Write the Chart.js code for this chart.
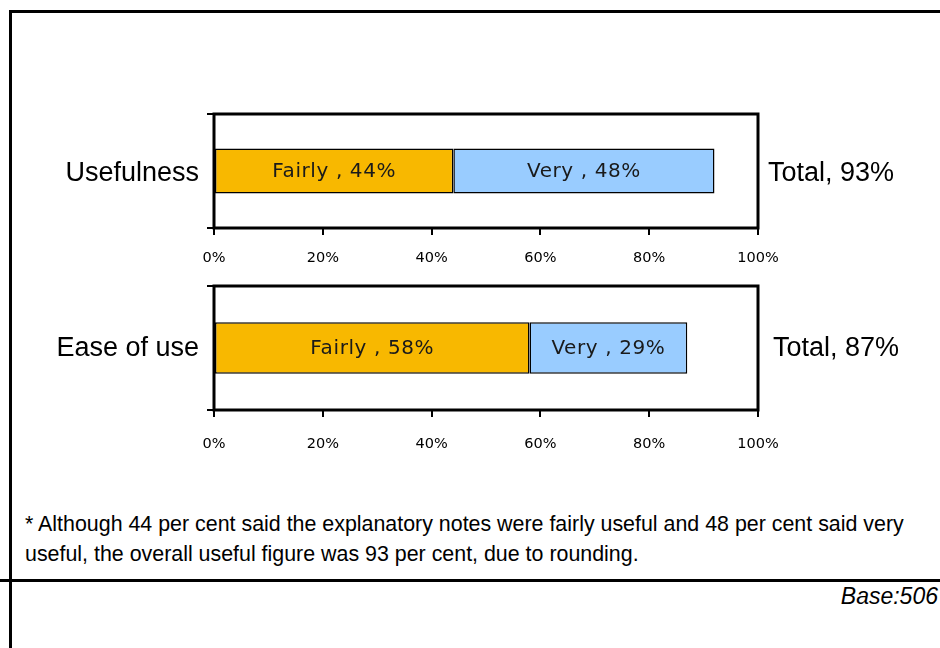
<!DOCTYPE html>
<html><head><meta charset="utf-8">
<script src="https://cdn.jsdelivr.net/npm/chart.js@4.4.1/dist/chart.umd.min.js"></script>
<style>
html,body{margin:0;padding:0;background:#fff;}
body{width:940px;height:648px;position:relative;overflow:hidden;font-family:"Liberation Sans",Arial,sans-serif;color:#000;}
.wrap{position:absolute;left:0;width:940px;}
#w1{top:0;height:280px;}
#w2{top:220px;height:260px;}
.line{position:absolute;background:#000;z-index:5;}
#note{position:absolute;left:25px;top:509px;font-size:21.4px;line-height:30px;white-space:nowrap;}
#base{position:absolute;right:2px;top:582px;font-size:23px;line-height:28px;font-style:italic;}
</style></head>
<body>
<div class="wrap" id="w1"><canvas id="c1"></canvas></div>
<div class="wrap" id="w2"><canvas id="c2"></canvas></div>
<div class="line" style="left:8.5px;top:10px;width:3px;height:640px;"></div>
<div class="line" style="left:8.5px;top:10px;width:932px;height:3px;"></div>
<div class="line" style="left:0;top:578.5px;width:940px;height:3px;"></div>
<div id="note">* Although 44 per cent said the explanatory notes were fairly useful and 48 per cent said very<br>useful, the overall useful figure was 93 per cent, due to rounding.</div>
<div id="base">Base:506</div>
<script>
const seriesNames = ['Fairly', 'Very'];
const categories1 = ['Usefulness'];
const fairly1 = [44];
const very1 = [48];
const totals1 = ['Total, 93%'];
const categories2 = ['Ease of use'];
const fairly2 = [58];
const very2 = [29];
const totals2 = ['Total, 87%'];
const xTickValues = [0, 20, 40, 60, 80, 100];

const COLORS = ['#F8B800', '#99CCFF'];

const framePlugin = {
  id: 'frame',
  afterDraw(chart) {
    const {ctx, chartArea: a} = chart;
    ctx.save();
    ctx.strokeStyle = '#000';
    ctx.lineWidth = 3;
    ctx.strokeRect(a.left, a.top, a.right - a.left, a.bottom - a.top);
    ctx.restore();
  }
};

const barLabelPlugin = {
  id: 'barLabels',
  afterDatasetsDraw(chart) {
    const ctx = chart.ctx;
    ctx.save();
    ctx.font = '20px "DejaVu Sans", Verdana, sans-serif';
    if ('letterSpacing' in ctx) ctx.letterSpacing = '0.6px';
    ctx.fillStyle = '#1a1a1a';
    ctx.textAlign = 'center';
    ctx.textBaseline = 'middle';
    chart.data.datasets.forEach((ds, di) => {
      const meta = chart.getDatasetMeta(di);
      meta.data.forEach((el, i) => {
        const p = el.getProps(['x', 'y', 'base'], true);
        ctx.fillText(ds.label + ' , ' + ds.data[i] + '%', (p.x + p.base) / 2, p.y + 1);
      });
    });
    ctx.restore();
  }
};

function makeChart(id, cats, fairly, very, totals, L) {
  return new Chart(document.getElementById(id), {
    type: 'bar',
    data: {
      labels: cats,
      datasets: [
        {label: seriesNames[0], data: fairly, backgroundColor: COLORS[0]},
        {label: seriesNames[1], data: very, backgroundColor: COLORS[1]}
      ].map(d => Object.assign(d, {borderColor: '#000', borderWidth: 1.5, borderSkipped: false,
          categoryPercentage: 1, barPercentage: L.barPct}))
    },
    options: {
      indexAxis: 'y',
      responsive: true,
      maintainAspectRatio: false,
      animation: false,
      events: [],
      layout: {padding: {top: L.top, left: 0, right: 0, bottom: 0}},
      plugins: {legend: {display: false}, tooltip: {enabled: false}},
      scales: {
        x: {
          type: 'linear', stacked: true, min: 0, max: 100,
          afterBuildTicks: s => { s.ticks = xTickValues.map(v => ({value: v})); },
          ticks: {callback: v => v + '%', color: '#000', padding: L.xPad,
                  font: {family: '"DejaVu Sans", Verdana, sans-serif', size: 14.5}, maxRotation: 0, autoSkip: false},
          grid: {drawOnChartArea: false, color: '#000', lineWidth: 2, tickLength: 7},
          border: {display: false},
          afterFit: s => { s.height = L.xH; }
        },
        y: {
          type: 'category', stacked: true, position: 'left', offset: true,
          ticks: {color: '#000', padding: 8, labelOffset: L.lOff,
                  font: {family: '"Liberation Sans", Arial, sans-serif', size: 27}},
          grid: {drawOnChartArea: false, offset: true, color: '#000', lineWidth: 2, tickLength: 7},
          border: {display: false},
          afterFit: s => { s.width = 214; }
        },
        y2: {
          type: 'category', labels: totals, position: 'right', offset: true,
          ticks: {color: '#000', padding: L.rPad, labelOffset: L.lOff,
                  font: {family: '"Liberation Sans", Arial, sans-serif', size: 27}},
          grid: {display: false, drawTicks: false},
          border: {display: false},
          afterFit: s => { s.width = 182; }
        }
      }
    },
    plugins: [framePlugin, barLabelPlugin]
  });
}

makeChart('c1', categories1, fairly1, very1, totals1, {top: 114, xH: 52, xPad: 15, rPad: 10, barPct: 0.395, lOff: 3});
makeChart('c2', categories2, fairly2, very2, totals2, {top: 66, xH: 70, xPad: 19, rPad: 15, barPct: 0.416, lOff: 1});
</script>
</body></html>
